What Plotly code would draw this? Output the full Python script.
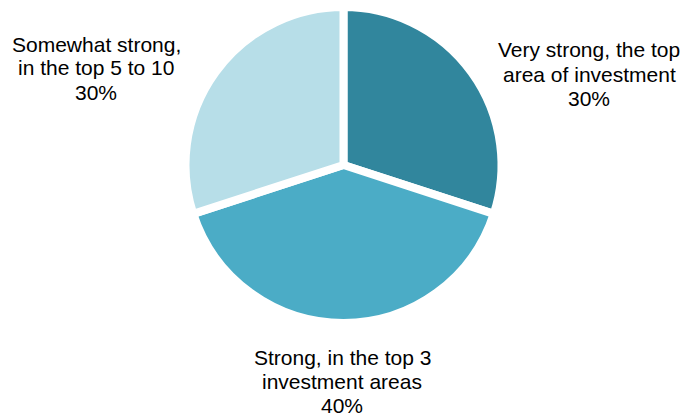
import plotly.graph_objects as go

# Survey answer categories and their shares (percent)
categories = [
    "Very strong, the top<br>area of investment",
    "Strong, in the top 3<br>investment areas",
    "Somewhat strong,<br>in the top 5 to 10",
]
shares = [30, 40, 30]
colors = ["#31869D", "#4BACC6", "#B7DEE8"]

# Label block centres in pixels (x from left, y from top)
label_pos = [(589, 74), (342, 381), (96, 68)]
line_pitch = 24  # tight line spacing for the outside labels

W, H = 685, 418
cx, cy, r = 343.5, 165, 158

fig = go.Figure(
    go.Pie(
        labels=categories,
        values=shares,
        sort=False,
        direction="clockwise",
        rotation=0,
        marker=dict(colors=colors, line=dict(color="white", width=8)),
        textinfo="none",
        hoverinfo="label+percent",
        domain=dict(
            x=[(cx - r) / W, (cx + r) / W],
            y=[1 - (cy + r) / H, 1 - (cy - r) / H],
        ),
        showlegend=False,
    )
)

label_font = dict(family="Liberation Sans, Arial, sans-serif", size=21, color="#000000")

for cat, val, (px, py) in zip(categories, shares, label_pos):
    lines = cat.split("<br>") + [f"{val}%"]
    n = len(lines)
    for i, line in enumerate(lines):
        ly = py + (i - (n - 1) / 2) * line_pitch
        fig.add_annotation(
            text=line,
            x=px / W,
            y=1 - ly / H,
            xref="paper",
            yref="paper",
            xanchor="center",
            yanchor="middle",
            showarrow=False,
            align="center",
            font=label_font,
        )

fig.update_layout(
    width=W,
    height=H,
    margin=dict(l=0, r=0, t=0, b=0),
    paper_bgcolor="white",
    plot_bgcolor="white",
)

fig.write_html("out.html")
